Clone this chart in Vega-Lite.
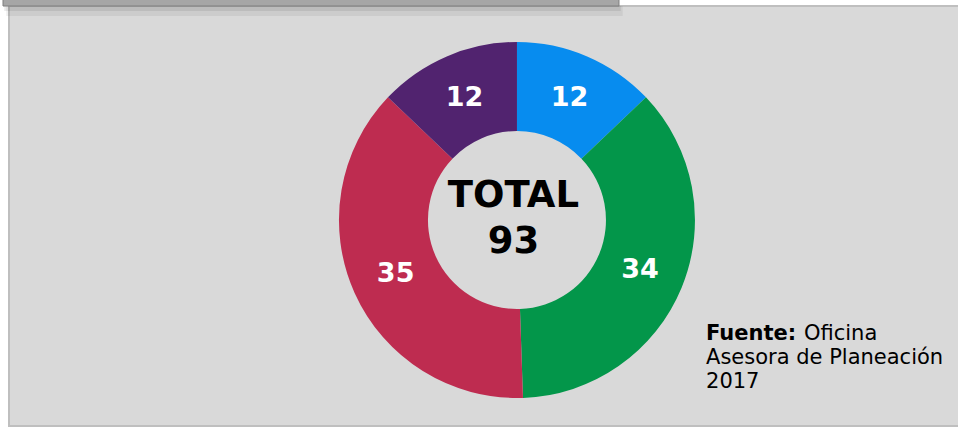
{
  "$schema": "https://vega.github.io/schema/vega-lite/v6.json",
  "width": 950,
  "height": 420,
  "autosize": {"type": "none"},
  "padding": {"left": 9, "top": 6, "right": 0, "bottom": 1},
  "background": "white",
  "config": {
    "view": {"fill": "#d9d9d9", "stroke": "#bfbfbf", "strokeWidth": 2},
    "font": "DejaVu Sans"
  },
  "datasets": {
    "donut": [
      {"grupo": "Grupo 1", "valor": 12, "orden": 1},
      {"grupo": "Grupo 2", "valor": 34, "orden": 2},
      {"grupo": "Grupo 3", "valor": 35, "orden": 3},
      {"grupo": "Grupo 4", "valor": 12, "orden": 4}
    ]
  },
  "layer": [
    {
      "data": {"values": [{"elemento": "sombra"}]},
      "mark": {"type": "rect", "fill": "black", "opacity": 0.06},
      "encoding": {
        "x": {"datum": -0.3, "type": "quantitative", "scale": {"domain": [0, 100]}, "axis": null},
        "x2": {"datum": 64.6},
        "y": {"datum": 0, "type": "quantitative", "scale": {"domain": [0, 100], "reverse": true}, "axis": null},
        "y2": {"datum": 2.4}
      }
    },
    {
      "data": {"values": [{"elemento": "sombra"}]},
      "mark": {"type": "rect", "fill": "black", "opacity": 0.08},
      "encoding": {
        "x": {"datum": -0.5, "type": "quantitative"},
        "x2": {"datum": 64.4},
        "y": {"datum": 0, "type": "quantitative"},
        "y2": {"datum": 1.2}
      }
    },
    {
      "data": {"values": [{"elemento": "marco"}]},
      "mark": {"type": "rect", "fill": "#a6a6a6", "stroke": "#7f7f7f", "strokeWidth": 1},
      "encoding": {
        "x": {"datum": -0.63, "type": "quantitative"},
        "x2": {"datum": 64.21},
        "y": {"datum": -2, "type": "quantitative"},
        "y2": {"datum": 0}
      }
    },
    {
      "data": {"name": "donut"},
      "mark": {"type": "arc", "innerRadius": 89, "outerRadius": 178},
      "encoding": {
        "theta": {"field": "valor", "type": "quantitative", "stack": true},
        "order": {"field": "orden", "type": "quantitative"},
        "color": {
          "field": "grupo",
          "type": "nominal",
          "scale": {"domain": ["Grupo 1", "Grupo 2", "Grupo 3", "Grupo 4"], "range": ["#078cef", "#03964a", "#be2c50", "#51236f"]},
          "legend": null
        },
        "x": {"datum": 53.47, "type": "quantitative"},
        "y": {"datum": 50.95, "type": "quantitative"}
      }
    },
    {
      "data": {"name": "donut"},
      "mark": {"type": "text", "radius": 133, "fill": "white", "fontWeight": "bold", "fontSize": 27, "align": "center", "baseline": "middle"},
      "encoding": {
        "theta": {"field": "valor", "type": "quantitative", "stack": true},
        "order": {"field": "orden", "type": "quantitative"},
        "text": {"field": "valor", "type": "quantitative"},
        "x": {"datum": 53.47, "type": "quantitative"},
        "y": {"datum": 50.95, "type": "quantitative"}
      }
    },
    {
      "data": {"values": [{"texto": "TOTAL\n93"}]},
      "mark": {"type": "text", "fontWeight": "bold", "fontSize": 37, "align": "center", "baseline": "alphabetic", "lineBreak": "\n", "lineHeight": 46, "fill": "black"},
      "encoding": {
        "text": {"field": "texto"},
        "x": {"datum": 53.1, "type": "quantitative"},
        "y": {"datum": 47.86, "type": "quantitative"}
      }
    },
    {
      "data": {"values": [{"texto": "Fuente:"}]},
      "mark": {"type": "text", "fontWeight": "bold", "fontSize": 21, "align": "left", "baseline": "alphabetic", "fill": "black"},
      "encoding": {
        "text": {"field": "texto"},
        "x": {"datum": 73.37, "type": "quantitative"},
        "y": {"datum": 79.52, "type": "quantitative"}
      }
    },
    {
      "data": {"values": [{"texto": "Oficina"}]},
      "mark": {"type": "text", "fontSize": 21, "align": "left", "baseline": "alphabetic", "fill": "black"},
      "encoding": {
        "text": {"field": "texto"},
        "x": {"datum": 83.68, "type": "quantitative"},
        "y": {"datum": 79.52, "type": "quantitative"}
      }
    },
    {
      "data": {"values": [{"texto": "Asesora de Planeación\n2017"}]},
      "mark": {"type": "text", "fontSize": 21, "align": "left", "baseline": "alphabetic", "lineBreak": "\n", "lineHeight": 24, "fill": "black"},
      "encoding": {
        "text": {"field": "texto"},
        "x": {"datum": 73.37, "type": "quantitative"},
        "y": {"datum": 85.24, "type": "quantitative"}
      }
    }
  ]
}
